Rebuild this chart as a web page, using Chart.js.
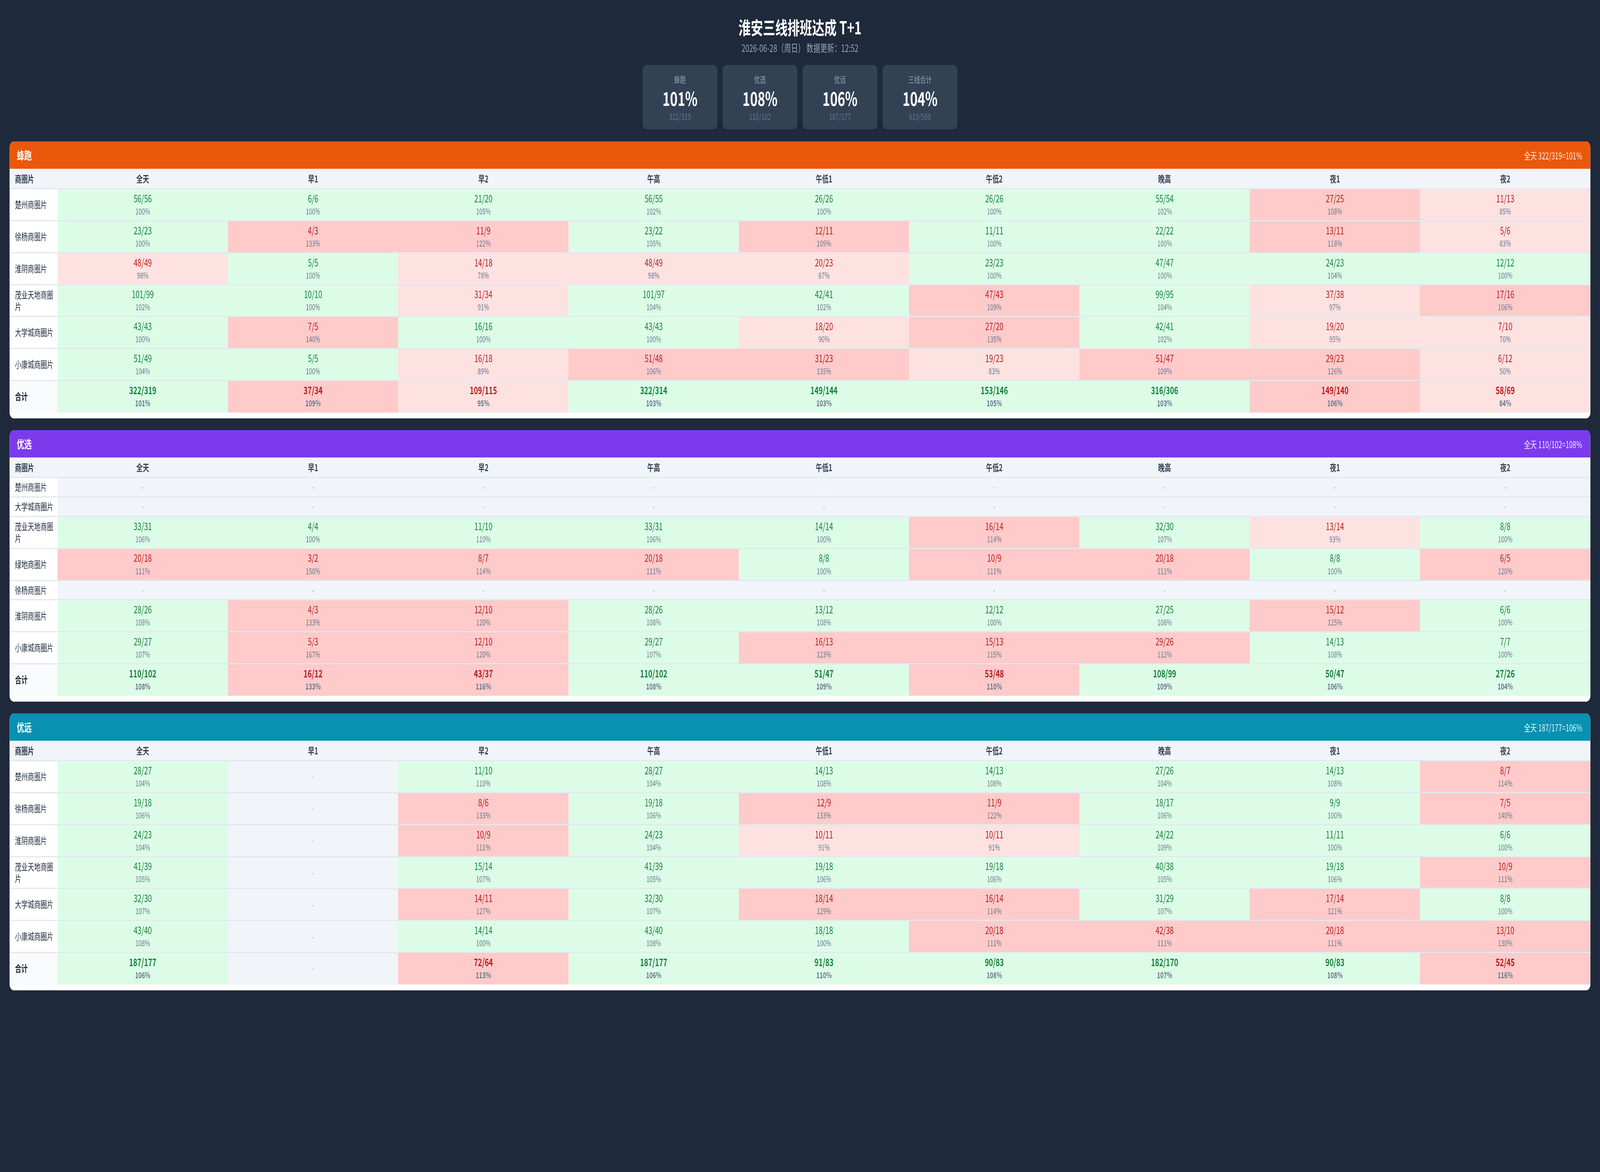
<!DOCTYPE html>
<html>
<head>
<meta charset="utf-8">
<title>淮安三线排班达成 T+1</title>
<script src="https://cdn.jsdelivr.net/npm/chart.js@4.4.1/dist/chart.umd.min.js"></script>
<style>
  html, body { margin: 0; padding: 0; background: #1e293b; overflow: hidden; }
  #page { width: 6000px; height: 3000px; position: relative; transform-origin: 0 0;
          font-family: "Noto Sans CJK SC", "Noto Sans", sans-serif; }
  #title { position: absolute; top: 40px; left: 0; width: 6000px; text-align: center;
           color: #fff; font-size: 46px; font-weight: bold; line-height: 56px; }
  #sub { position: absolute; top: 107px; left: 0; width: 6000px; text-align: center;
         color: #94a3b8; font-size: 26px; line-height: 30px; }
  #cards { position: absolute; top: 166px; left: 0; width: 6000px; display: flex;
           justify-content: center; gap: 20px; }
  .card { width: 280px; height: 165px; background: #334155; border-radius: 14px;
          position: relative; text-align: center; }
  .card div { position: absolute; left: 0; width: 100%; }
  .card .lb { top: 22px; line-height: 28px; font-size: 22px; color: #94a3b8; }
  .card .val { top: 56px; line-height: 56px; font-size: 48px; font-weight: bold; color: #fff; }
  .card .sm { top: 117px; line-height: 28px; font-size: 22px; color: #64748b; }
  #sections { position: absolute; top: 362px; left: 36px; width: 5928px; }
  .sec { background: #fff; border-radius: 16px; overflow: hidden; margin-bottom: 30px; }
  .sec-head { height: 70px; display: flex; align-items: center; justify-content: space-between;
              padding: 0 31px 0 27px; color: #fff; }
  .sec-head .t { font-size: 28px; font-weight: bold; }
  .sec-head .r { font-size: 24px; color: rgba(255,255,255,0.9); }
  canvas { display: block; background: #fff; }
</style>
</head>
<body>
<div id="page">
  <div id="title">淮安三线排班达成 T+1</div>
  <div id="sub">2026-06-28（周日） 数据更新：12:52</div>
  <div id="cards"></div>
  <div id="sections"></div>
</div>

<script>
// time slots (columns)
const slots = ['全天', '早1', '早2', '午高', '午低1', '午低2', '晚高', '夜1', '夜2'];

// 蜂跑: actual / target
const fpAreas = ['楚州商圈片', '徐杨商圈片', '淮阴商圈片', '茂业天地商圈片', '大学城商圈片', '小康城商圈片', '合计'];
const fpActual = [
  [56, 6, 21, 56, 26, 26, 55, 27, 11],
  [23, 4, 11, 23, 12, 11, 22, 13, 5],
  [48, 5, 14, 48, 20, 23, 47, 24, 12],
  [101, 10, 31, 101, 42, 47, 99, 37, 17],
  [43, 7, 16, 43, 18, 27, 42, 19, 7],
  [51, 5, 16, 51, 31, 19, 51, 29, 6],
  [322, 37, 109, 322, 149, 153, 316, 149, 58]
];
const fpTarget = [
  [56, 6, 20, 55, 26, 26, 54, 25, 13],
  [23, 3, 9, 22, 11, 11, 22, 11, 6],
  [49, 5, 18, 49, 23, 23, 47, 23, 12],
  [99, 10, 34, 97, 41, 43, 95, 38, 16],
  [43, 5, 16, 43, 20, 20, 41, 20, 10],
  [49, 5, 18, 48, 23, 23, 47, 23, 12],
  [319, 34, 115, 314, 144, 146, 306, 140, 69]
];

// 优选
const yxAreas = ['楚州商圈片', '大学城商圈片', '茂业天地商圈片', '绿地商圈片', '徐杨商圈片', '淮阴商圈片', '小康城商圈片', '合计'];
const yxActual = [
  [null, null, null, null, null, null, null, null, null],
  [null, null, null, null, null, null, null, null, null],
  [33, 4, 11, 33, 14, 16, 32, 13, 8],
  [20, 3, 8, 20, 8, 10, 20, 8, 6],
  [null, null, null, null, null, null, null, null, null],
  [28, 4, 12, 28, 13, 12, 27, 15, 6],
  [29, 5, 12, 29, 16, 15, 29, 14, 7],
  [110, 16, 43, 110, 51, 53, 108, 50, 27]
];
const yxTarget = [
  [null, null, null, null, null, null, null, null, null],
  [null, null, null, null, null, null, null, null, null],
  [31, 4, 10, 31, 14, 14, 30, 14, 8],
  [18, 2, 7, 18, 8, 9, 18, 8, 5],
  [null, null, null, null, null, null, null, null, null],
  [26, 3, 10, 26, 12, 12, 25, 12, 6],
  [27, 3, 10, 27, 13, 13, 26, 13, 7],
  [102, 12, 37, 102, 47, 48, 99, 47, 26]
];

// 优远
const yyAreas = ['楚州商圈片', '徐杨商圈片', '淮阴商圈片', '茂业天地商圈片', '大学城商圈片', '小康城商圈片', '合计'];
const yyActual = [
  [28, null, 11, 28, 14, 14, 27, 14, 8],
  [19, null, 8, 19, 12, 11, 18, 9, 7],
  [24, null, 10, 24, 10, 10, 24, 11, 6],
  [41, null, 15, 41, 19, 19, 40, 19, 10],
  [32, null, 14, 32, 18, 16, 31, 17, 8],
  [43, null, 14, 43, 18, 20, 42, 20, 13],
  [187, null, 72, 187, 91, 90, 182, 90, 52]
];
const yyTarget = [
  [27, null, 10, 27, 13, 13, 26, 13, 7],
  [18, null, 6, 18, 9, 9, 17, 9, 5],
  [23, null, 9, 23, 11, 11, 22, 11, 6],
  [39, null, 14, 39, 18, 18, 38, 18, 9],
  [30, null, 11, 30, 14, 14, 29, 14, 8],
  [40, null, 14, 40, 18, 18, 38, 18, 10],
  [177, null, 64, 177, 83, 83, 170, 83, 45]
];

// over-staffing limit per line
const fpCap = 1.05, yxCap = 1.10, yyCap = 1.10;

Chart.defaults.font.family = '"Noto Sans CJK SC", "Noto Sans", sans-serif';
Chart.defaults.animation = false;

const ROW = 84, EMPTY = 0.61, HEAD = 51, WIDTH = 5928;
const fills = { ok: '#dcfce7', low: '#fee2e2', high: '#fecaca', none: '#f1f5f9' };
const pct = (a, t) => Math.round(a / t * 100) + '%';

// the page is laid out for 6000x3000; stretch it onto whatever window we get
function fitPage() {
  const sx = (window.innerWidth || 6000) / 6000;
  const sy = (window.innerHeight || 3000) / 3000;
  document.getElementById('page').style.transform = `scale(${sx}, ${sy})`;
}

function wrapName(s) {
  return s.length > 6 ? [s.slice(0, 6), s.slice(6)] : s;
}

function renderCards() {
  const lines = [['蜂跑', fpActual, fpTarget], ['优选', yxActual, yxTarget], ['优远', yyActual, yyTarget]];
  let sa = 0, st = 0;
  const html = lines.map(([name, act, tgt]) => {
    const a = act[act.length - 1][0], t = tgt[tgt.length - 1][0];
    sa += a; st += t;
    return card(name, a, t);
  });
  html.push(card('三线合计', sa, st));
  document.getElementById('cards').innerHTML = html.join('');
}

function card(name, a, t) {
  return `<div class="card"><div class="lb">${name}</div><div class="val">${pct(a, t)}</div><div class="sm">${a}/${t}</div></div>`;
}

function renderSection(name, color, areas, actual, target, cap) {
  const sec = document.createElement('div');
  sec.className = 'sec';
  const last = areas.length - 1;
  const a0 = actual[last][0], t0 = target[last][0];
  sec.innerHTML = `<div class="sec-head" style="background:${color}"><span class="t">${name}</span><span class="r">全天 ${a0}/${t0}=${pct(a0, t0)}</span></div>`;
  document.getElementById('sections').appendChild(sec);

  const spans = actual.map(r => r.every(v => v == null) ? EMPTY : 1);
  const edges = [0];
  spans.forEach(s => edges.push(edges[edges.length - 1] + s));
  const total = edges[edges.length - 1];
  const centers = spans.map((s, i) => edges[i] + s / 2);

  const canvas = document.createElement('canvas');
  canvas.width = WIDTH;
  canvas.height = Math.round(HEAD + total * ROW);
  canvas.style.width = WIDTH + 'px';
  canvas.style.height = canvas.height + 'px';
  sec.appendChild(canvas);

  const status = (a, t) => {
    if (a == null || t == null) return 'none';
    if (a / t < 1) return 'low';
    if (a / t > cap + 1e-9) return 'high';
    return 'ok';
  };

  const cellPlugin = {
    id: 'cells',
    beforeDraw(chart) {
      const ctx = chart.ctx, y = chart.scales.y, area = chart.chartArea;
      ctx.save();
      ctx.fillStyle = '#f1f5f9';
      ctx.fillRect(0, 0, chart.width, area.top);
      ctx.fillStyle = '#f8fafc';
      const y0 = y.getPixelForValue(edges[last]), y1 = y.getPixelForValue(edges[last + 1]);
      ctx.fillRect(0, y0, area.left, y1 - y0);
      ctx.restore();
    },
    afterDatasetsDraw(chart) {
      const ctx = chart.ctx, y = chart.scales.y;
      ctx.save();
      ctx.strokeStyle = '#e2e8f0';
      ctx.lineWidth = 3;
      edges.slice(0, -1).forEach(e => {
        const py = Math.round(y.getPixelForValue(e));
        ctx.beginPath();
        ctx.moveTo(0, py);
        ctx.lineTo(chart.width, py);
        ctx.stroke();
      });
      ctx.textAlign = 'center';
      ctx.textBaseline = 'middle';
      chart.data.datasets.forEach((ds, r) => {
        const bold = r === last ? 'bold ' : '';
        chart.getDatasetMeta(r).data.forEach((bar, c) => {
          const cx = bar.x, cy = (bar.y + bar.base) / 2;
          const a = actual[r][c], t = target[r][c];
          if (a == null) {
            ctx.fillStyle = '#94a3b8';
            ctx.font = '22px "Noto Sans CJK SC"';
            ctx.fillText('-', cx, cy);
            return;
          }
          ctx.fillStyle = status(a, t) === 'ok' ? '#15803d' : '#b91c1c';
          ctx.font = bold + '26px "Noto Sans CJK SC"';
          ctx.fillText(a + '/' + t, cx, cy - 16);
          ctx.fillStyle = '#64748b';
          ctx.font = bold + '21px "Noto Sans CJK SC"';
          ctx.fillText(pct(a, t), cx, cy + 17);
        });
      });
      ctx.fillStyle = '#334155';
      ctx.textAlign = 'left';
      ctx.font = 'bold 24px "Noto Sans CJK SC"';
      ctx.fillText('商圈片', 20, chart.chartArea.top / 2);
      ctx.restore();
    }
  };

  new Chart(canvas.getContext('2d'), {
    type: 'bar',
    data: {
      labels: slots,
      datasets: areas.map((area, r) => ({
        label: area,
        data: slots.map(() => [edges[r], edges[r + 1]]),
        backgroundColor: slots.map((s, c) => fills[status(actual[r][c], target[r][c])]),
        borderWidth: 0,
        categoryPercentage: 1,
        barPercentage: 1,
        grouped: false
      }))
    },
    options: {
      responsive: false,
      devicePixelRatio: 1,
      layout: { padding: { left: 20, top: 0, right: 0, bottom: 0 } },
      plugins: { legend: { display: false }, tooltip: { enabled: false } },
      scales: {
        x: {
          type: 'category',
          position: 'top',
          offset: true,
          grid: { display: false, drawTicks: false },
          border: { display: false },
          ticks: { color: '#334155', font: { size: 24, weight: 'bold' }, padding: 11, autoSkip: false, maxRotation: 0 },
          afterFit(scale) { scale.height = HEAD; }
        },
        y: {
          type: 'linear',
          position: 'left',
          reverse: true,
          min: 0,
          max: total,
          grid: { display: false, drawTicks: false },
          border: { display: false },
          afterBuildTicks(scale) { scale.ticks = centers.map(v => ({ value: v })); },
          afterFit(scale) { scale.width = 160; },
          ticks: {
            autoSkip: false,
            crossAlign: 'far',
            padding: 0,
            color: '#1e293b',
            font: ctx => ({ size: 24, weight: ctx.index === last ? 'bold' : 'normal', lineHeight: 1.25 }),
            callback: (v, i) => wrapName(areas[i])
          }
        }
      }
    },
    plugins: [cellPlugin]
  });
}

fitPage();
window.addEventListener('resize', fitPage);
renderCards();
renderSection('蜂跑', '#ea580c', fpAreas, fpActual, fpTarget, fpCap);
renderSection('优选', '#7c3aed', yxAreas, yxActual, yxTarget, yxCap);
renderSection('优远', '#0891b2', yyAreas, yyActual, yyTarget, yyCap);
</script>
</body>
</html>
